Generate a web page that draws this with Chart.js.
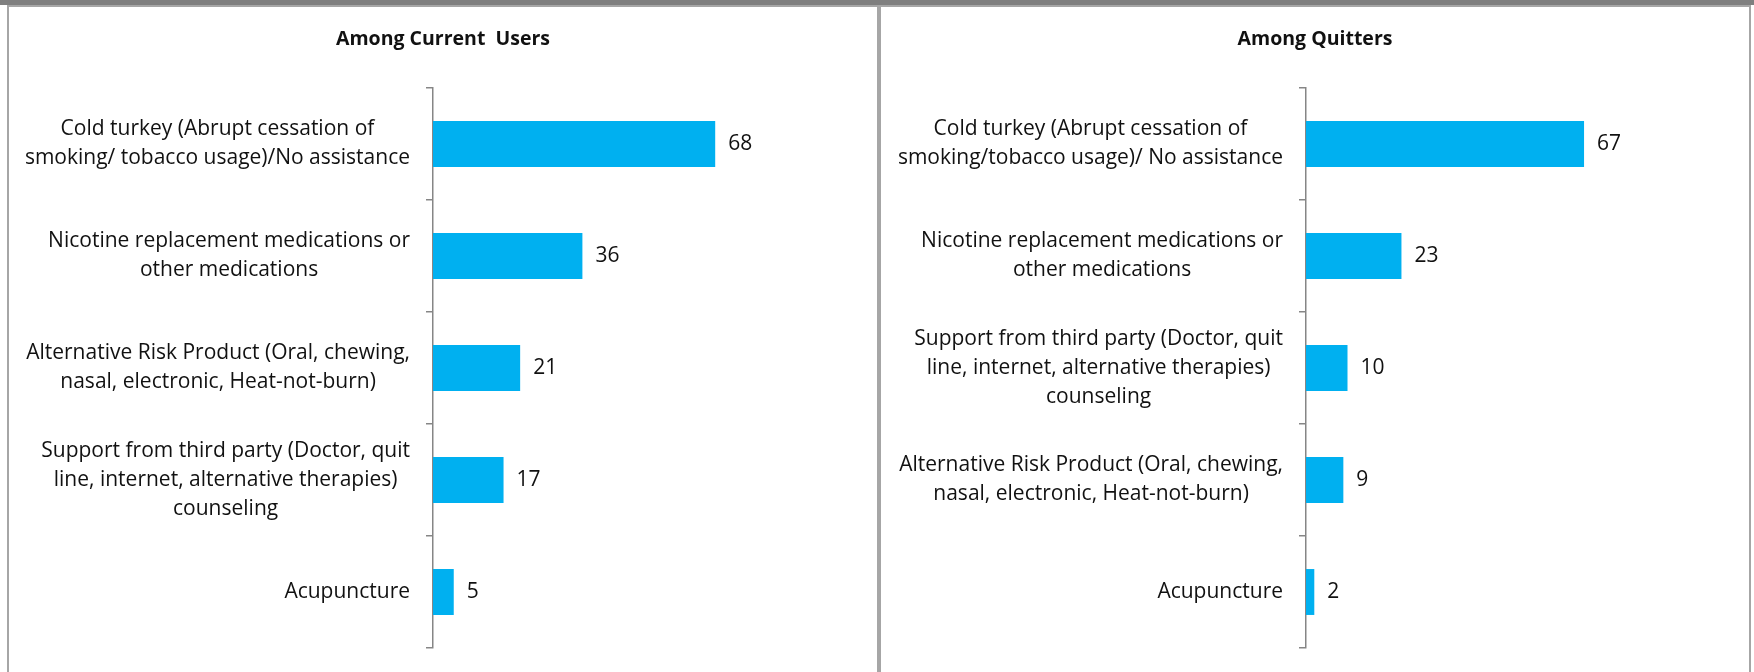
<!DOCTYPE html>
<html>
<head>
<meta charset="utf-8">
<script src="https://cdn.jsdelivr.net/npm/chart.js@4.4.1/dist/chart.umd.min.js"></script>
<style>
  html, body { margin: 0; padding: 0; background: #fff; }
  body { width: 1754px; height: 672px; position: relative; overflow: hidden; }
  .band { position: absolute; left: 0; top: 0; width: 1754px; height: 5px; background: #7f7f7f; }
  .panel { position: absolute; top: 5px; height: 680px; border: 2px solid #a6a6a6; box-sizing: border-box; }
  #p1 { left: 7px; width: 872px; }
  #p2 { left: 879px; width: 872px; }
  canvas { position: absolute; top: 7px; }
  #c1 { left: 9px; }
  #c2 { left: 881px; }
</style>
</head>
<body>
<div class="band"></div>
<div class="panel" id="p1"></div>
<div class="panel" id="p2"></div>
<canvas id="c1" width="868" height="665"></canvas>
<canvas id="c2" width="868" height="665"></canvas>
<script>
// Among current users
const currentLabels = [
  ['Cold turkey (Abrupt cessation of', 'smoking/ tobacco usage)/No assistance'],
  ['Nicotine replacement medications or', 'other medications'],
  ['Alternative Risk Product (Oral, chewing,', 'nasal, electronic, Heat-not-burn)'],
  ['Support from third party (Doctor, quit', 'line, internet, alternative therapies)', 'counseling'],
  ['Acupuncture']
];
const currentValues = [68, 36, 21, 17, 5];

// Among quitters
const quitterLabels = [
  ['Cold turkey (Abrupt cessation of', 'smoking/tobacco usage)/ No assistance'],
  ['Nicotine replacement medications or', 'other medications'],
  ['Support from third party (Doctor, quit', 'line, internet, alternative therapies)', 'counseling'],
  ['Alternative Risk Product (Oral, chewing,', 'nasal, electronic, Heat-not-burn)'],
  ['Acupuncture']
];
const quitterValues = [67, 23, 10, 9, 2];

const BAR = '#00b0f0';
const AXIS = '#868686';
const TEXT = '#111111';
const FONT = '"Open Sans", "Noto Sans", sans-serif';

// draws category text (centred lines, block pushed against the axis) and value labels
const sideText = {
  id: 'sideText',
  afterDraw(chart) {
    const { ctx, chartArea } = chart;
    const y = chart.scales.y;
    const lines = chart.data.labels;
    ctx.save();
    ctx.fillStyle = TEXT;
    ctx.font = '21px ' + FONT;
    ctx.textBaseline = 'middle';
    ctx.textAlign = 'center';
    const lh = 29;
    lines.forEach((ls, i) => {
      const yc = y.getPixelForTick(i);
      const w = Math.max(...ls.map(l => ctx.measureText(l).width));
      const cx = chartArea.left - 23 - w / 2;
      ls.forEach((l, j) => ctx.fillText(l, cx, yc + (j - (ls.length - 1) / 2) * lh));
    });
    ctx.textAlign = 'left';
    const meta = chart.getDatasetMeta(0);
    meta.data.forEach((bar, i) => {
      ctx.fillText(String(chart.data.datasets[0].data[i]), bar.x + 13, bar.y);
    });
    ctx.restore();
  }
};

// pad: equal left/right padding so the title sits in the middle of the panel
function makeChart(id, title, labels, values, yWidth, pad) {
  return new Chart(document.getElementById(id), {
    type: 'bar',
    data: {
      labels: labels,
      datasets: [{
        data: values,
        backgroundColor: BAR,
        barPercentage: 0.41,
        categoryPercentage: 1
      }]
    },
    options: {
      indexAxis: 'y',
      responsive: false,
      animation: false,
      layout: { padding: { left: pad, right: pad, top: 0, bottom: 24 } },
      plugins: {
        legend: { display: false },
        tooltip: { enabled: false },
        title: {
          display: true,
          text: title,
          color: TEXT,
          font: { family: FONT, size: 19.5, weight: 'bold', lineHeight: 1.2 },
          padding: { top: 21, bottom: 36.6 }
        }
      },
      scales: {
        x: { display: false, min: 0, max: 100 },
        y: {
          afterFit(scale) { scale.width = yWidth; },
          ticks: { display: false },
          grid: {
            display: true,
            drawOnChartArea: false,
            drawTicks: true,
            tickLength: 7,
            offset: true,
            color: AXIS,
            lineWidth: 1.5
          },
          border: { display: true, color: AXIS, width: 1.5 }
        }
      }
    },
    plugins: [sideText]
  });
}

makeChart('c1', 'Among Current  Users', currentLabels, currentValues, 395, 29);
makeChart('c2', 'Among Quitters', quitterLabels, quitterValues, 397, 28);
</script>
</body>
</html>
